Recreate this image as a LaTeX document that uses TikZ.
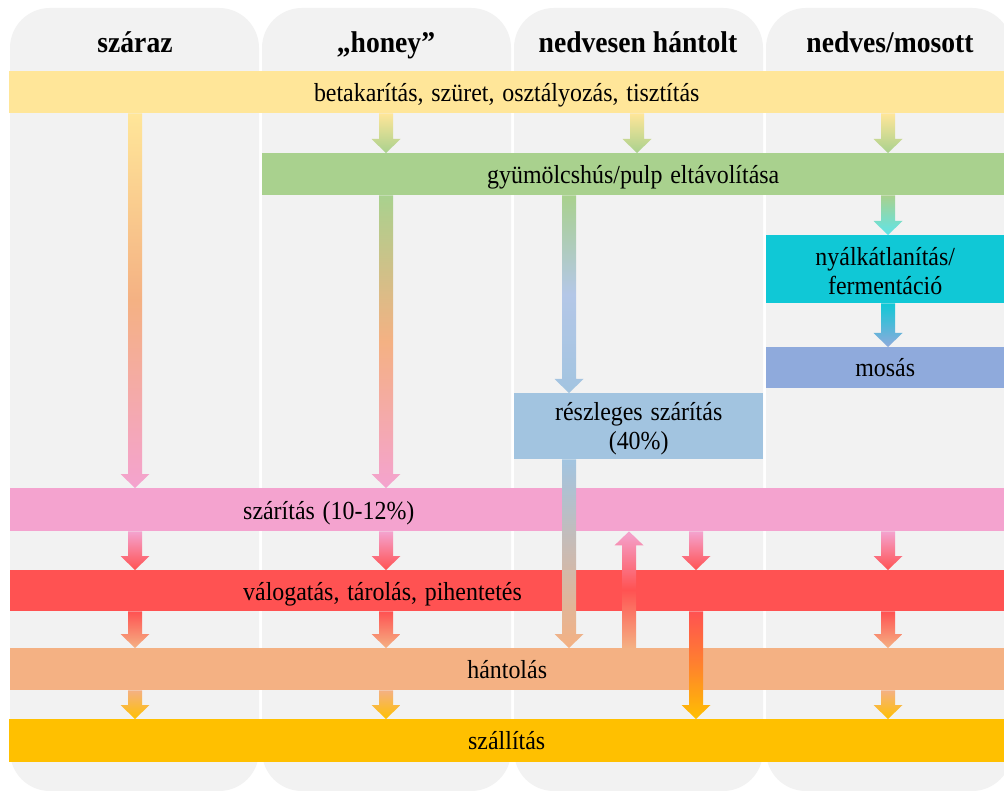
\documentclass[tikz,border=0pt]{standalone}
\usepackage{fontspec}
\setmainfont[FakeStretch=0.92]{Liberation Serif}
\usetikzlibrary{calc}
\definecolor{colbg}{HTML}{F2F2F2}
\definecolor{yel}{HTML}{FFE699}
\definecolor{grn}{HTML}{A9D18E}
\definecolor{teal}{RGB}{16,200,214}
\definecolor{cyanl}{RGB}{95,228,232}
\definecolor{mos}{HTML}{8FAADC}
\definecolor{resz}{HTML}{A2C4E0}
\definecolor{ltblue}{HTML}{B4C7E7}
\definecolor{pink}{RGB}{244,163,207}
\definecolor{redb}{RGB}{255,82,82}
\definecolor{salm}{HTML}{F4B183}
\definecolor{orng}{RGB}{255,130,45}
\definecolor{gold}{HTML}{FFC000}
\newcommand\bodyfont{\fontsize{26}{29}\selectfont\spaceskip=0.3em plus 0.1em minus 0.05em\relax}
\newcommand\hdrfont{\fontsize{30}{34}\selectfont\bfseries}
\newcommand\arrdown[3]{%
  \shade[#3] let \p1=#1, \p2=#2 in
   (\x1-7pt,\y1) -- (\x1+7pt,\y1) -- (\x1+7pt,\y2+14pt) -- (\x1+14.5pt,\y2+14pt)
   -- (\x1,\y2) -- (\x1-14.5pt,\y2+14pt) -- (\x1-7pt,\y2+14pt) -- cycle;}
\newcommand\arrup[3]{%
  \shade[#3] let \p1=#1, \p2=#2 in
   (\x1-7pt,\y1) -- (\x1+7pt,\y1) -- (\x1+7pt,\y2-14pt) -- (\x1+14.5pt,\y2-14pt)
   -- (\x1,\y2) -- (\x1-14.5pt,\y2-14pt) -- (\x1-7pt,\y2-14pt) -- cycle;}
\tikzset{
  colbox/.style={fill=colbg, rounded corners=40pt},
  bar/.style={rectangle, inner sep=0pt, anchor=north west, text height=18.5pt, text depth=0pt, font=\bodyfont},
  box/.style={rectangle, inner sep=0pt, anchor=north west, align=center, font=\bodyfont},
  hdr/.style={font=\hdrfont, anchor=base, inner sep=0pt},
  txt/.style={font=\bodyfont, inner sep=0pt},
}
\begin{document}
\begin{tikzpicture}[x=1pt,y=-1pt]
\useasboundingbox (0,0) rectangle (1004,791);
\fill[white] (0,0) rectangle (1004,791);
% columns
\fill[colbox] (10,8) rectangle (259,791);
\fill[colbox] (262,8) rectangle (511,791);
\fill[colbox] (514,8) rectangle (763,791);
\fill[colbox] (766,8) rectangle (1012,791);
% headers
\node[hdr] (h1) at (135,53) {száraz};
\node[hdr] (h2) at (386,53) {„honey”};
\node[hdr] (h3) at (638,53) {nedvesen hántolt};
\node[hdr] (h4) at (890,53) {nedves/mosott};
% column x positions
\coordinate (c1) at (135,0);
\coordinate (c2) at (386,0);
\coordinate (c3) at (637,0);
\coordinate (c3a) at (569,0);
\coordinate (c3b) at (629,0);
\coordinate (c3c) at (696,0);
\coordinate (c4) at (888,0);
% bars
\node[bar, fill=yel, minimum width=995pt, minimum height=42pt] (b1) at (9,71) {betakarítás, szüret, osztályozás, tisztítás};
\node[bar, fill=grn, minimum width=742pt, minimum height=42pt] (b2) at (262,153) {gyümölcshús/pulp eltávolítása};
\node[box, fill=teal, minimum width=238pt, minimum height=68pt] (b3) at (766,235) {\rule{0pt}{22pt}nyálkátlanítás/\\fermentáció};
\node[bar, fill=mos, minimum width=238pt, minimum height=41pt] (b4) at (766,347) {mosás};
\node[box, fill=resz, minimum width=249pt, minimum height=66pt] (b5) at (514,393) {\rule{0pt}{24pt}részleges szárítás\\(40\%)};
\node[bar, fill=pink, minimum width=994pt, minimum height=43pt] (b6) at (10,488) {};
\node[bar, fill=redb, minimum width=994pt, minimum height=41pt] (b7) at (10,570) {};
\node[bar, fill=salm, minimum width=994pt, minimum height=42pt] (b8) at (10,648) {hántolás};
\node[bar, fill=gold, minimum width=995pt, minimum height=43pt] (b9) at (9,719) {szállítás};
\node[txt, anchor=base west] (t6) at (243,519) {szárítás (10-12\%)};
\node[txt, anchor=base west] (t7) at (243,600) {válogatás, tárolás, pihentetés};
% column 1
\arrdown{(c1 |- b1.south)}{(c1 |- b6.north)}{top color=yel, bottom color=pink, middle color=salm}
\arrdown{(c1 |- b6.south)}{(c1 |- b7.north)}{top color=pink, bottom color=redb}
\arrdown{(c1 |- b7.south)}{(c1 |- b8.north)}{top color=redb, bottom color=salm}
\arrdown{(c1 |- b8.south)}{(c1 |- b9.north)}{top color=salm, bottom color=gold}
% column 2
\arrdown{(c2 |- b1.south)}{(c2 |- b2.north)}{top color=yel, bottom color=grn}
\arrdown{(c2 |- b2.south)}{(c2 |- b6.north)}{top color=grn, bottom color=pink, middle color=salm}
\arrdown{(c2 |- b6.south)}{(c2 |- b7.north)}{top color=pink, bottom color=redb}
\arrdown{(c2 |- b7.south)}{(c2 |- b8.north)}{top color=redb, bottom color=salm}
\arrdown{(c2 |- b8.south)}{(c2 |- b9.north)}{top color=salm, bottom color=gold}
% column 3
\arrdown{(c3 |- b1.south)}{(c3 |- b2.north)}{top color=yel, bottom color=grn}
\arrdown{(c3a |- b2.south)}{(c3a |- b5.north)}{top color=grn, bottom color=resz, middle color=ltblue}
\arrdown{(c3a |- b5.south)}{(c3a |- b8.north)}{top color=resz, bottom color=salm}
\arrup{(c3b |- b8.north)}{(c3b |- b6.south)}{top color=pink, bottom color=salm, middle color=redb}
\arrdown{(c3c |- b6.south)}{(c3c |- b7.north)}{top color=pink, bottom color=redb}
\arrdown{(c3c |- b7.south)}{(c3c |- b9.north)}{top color=redb, bottom color=gold, middle color=orng}
% column 4
\arrdown{(c4 |- b1.south)}{(c4 |- b2.north)}{top color=yel, bottom color=grn}
\arrdown{(c4 |- b2.south)}{(c4 |- b3.north)}{top color=grn, bottom color=cyanl}
\arrdown{(c4 |- b3.south)}{(c4 |- b4.north)}{top color=teal, bottom color=mos}
\arrdown{(c4 |- b6.south)}{(c4 |- b7.north)}{top color=pink, bottom color=redb}
\arrdown{(c4 |- b7.south)}{(c4 |- b8.north)}{top color=redb, bottom color=salm}
\arrdown{(c4 |- b8.south)}{(c4 |- b9.north)}{top color=salm, bottom color=gold}
\end{tikzpicture}
\end{document}
